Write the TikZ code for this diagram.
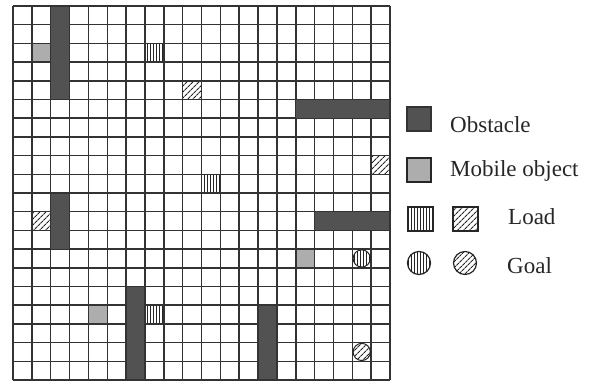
\documentclass[tikz,border=0pt]{standalone}
\usepackage{fontspec}
\setmainfont{Liberation Serif}
\usetikzlibrary{patterns.meta}
\tikzset{
  gridline/.style={draw=black!80, line width=1.5pt},
  obst/.style={fill=black!68, draw=black!80, line width=1.2pt},
  mobile/.style={fill=black!32},
  vload/.style={pattern={Lines[angle=90,distance=3pt,line width=0.8pt]}, pattern color=black!85},
  dload/.style={pattern={Lines[angle=45,distance=4pt,line width=1.1pt]}, pattern color=black!85},
  legbox/.style={draw=black!85, line width=1.2pt},
  legtext/.style={font=\fontsize{23}{26}\selectfont, anchor=west, text=black!85, inner sep=0pt}
}
\newcommand{\cellat}[3]{\path[#3] ({13+#1*18.85},{6+#2*18.7}) rectangle ++(18.85,18.7);}
\newcommand{\goalat}[3]{\path[#3, draw=black!85, line width=1pt] ({13+(#1+0.5)*18.85},{6+(#2+0.5)*18.7}) circle (8.6);}
\begin{document}
\begin{tikzpicture}[x=1pt,y=-1pt]
\useasboundingbox (0,0) rectangle (597,383);
% mobile objects
\cellat{1}{2}{mobile}
\cellat{15}{13}{mobile}
\cellat{4}{16}{mobile}
% loads (vertical)
\cellat{7}{2}{vload}
\cellat{10}{9}{vload}
\cellat{7}{16}{vload}
% loads (diagonal)
\cellat{9}{4}{dload}
\cellat{19}{8}{dload}
\cellat{1}{11}{dload}
% grid
\foreach \i in {0,...,20} {
  \draw[gridline] ({13+\i*18.85},6) -- ({13+\i*18.85},380);
  \draw[gridline] (13,{6+\i*18.7}) -- (390,{6+\i*18.7});
}
% goals
\goalat{18}{13}{vload}
\goalat{18}{18}{dload}
% obstacles
\path[obst] ({13+2*18.85},6) rectangle ({13+3*18.85},{6+5*18.7});
\path[obst] ({13+15*18.85},{6+5*18.7}) rectangle (390,{6+6*18.7});
\path[obst] ({13+2*18.85},{6+10*18.7}) rectangle ({13+3*18.85},{6+13*18.7});
\path[obst] ({13+16*18.85},{6+11*18.7}) rectangle (390,{6+12*18.7});
\path[obst] ({13+6*18.85},{6+15*18.7}) rectangle ({13+7*18.85},380);
\path[obst] ({13+13*18.85},{6+16*18.7}) rectangle ({13+14*18.85},380);
% legend
\path[obst] (407,107) rectangle (431,131);
\node[legtext] (tobst) at (450,125) {Obstacle};
\path[legbox, mobile] (407,158) rectangle (431,182);
\node[legtext] (tmob) at (450,171) {Mobile object};
\path[legbox, vload] (408,207) rectangle (433,231);
\path[legbox, dload] (453,207) rectangle (478,231);
\node[legtext] (tload) at (508,217) {Load};
\path[legbox, vload] (419,263) circle (11.5);
\path[legbox, dload] (465,263) circle (11.5);
\node[legtext] (tgoal) at (507,266) {Goal};
\end{tikzpicture}
\end{document}
